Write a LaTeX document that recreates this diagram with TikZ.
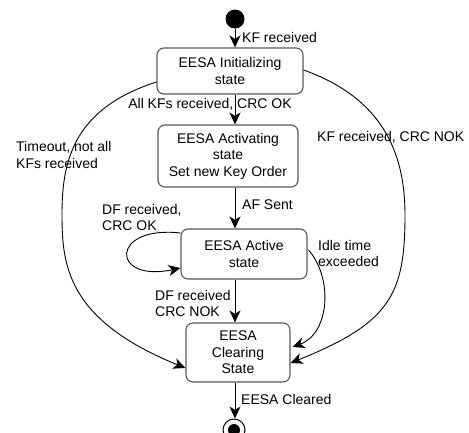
\documentclass[tikz,border=0pt]{standalone}
\usepackage{fontspec}
\setmainfont{Liberation Sans}
\usetikzlibrary{arrows.meta,calc}
\begin{document}
\begin{tikzpicture}[x=1pt,y=-1pt,
  every node/.style={font=\fontsize{14}{16.5}\selectfont},
  statebox/.style={draw=black!65,line width=1.1pt,rounded corners=7pt,inner sep=0pt,align=center},
  lbl/.style={inner sep=0pt,align=left},
  conn/.style={line width=0.9pt,-{Stealth[length=12pt,width=11pt,inset=3.5pt]}}]
\useasboundingbox (0,0) rectangle (469,432);
\node[circle,fill=black,inner sep=0pt,minimum size=19pt] (start) at (235,19) {};
\node[statebox,minimum width=146pt,minimum height=46pt] (n1) at (230,71) {EESA Initializing\\state};
\node[statebox,minimum width=140pt,minimum height=62pt] (n2) at (228,156) {EESA Activating\\state\\Set new Key Order};
\node[statebox,minimum width=126pt,minimum height=50pt] (n3) at (244,254) {EESA Active\\state};
\node[statebox,minimum width=104pt,minimum height=59pt] (n4) at (238,352.5) {EESA\\Clearing\\State};
\node[circle,draw=black,line width=1pt,inner sep=0pt,minimum size=22pt] (fin) at (234,430) {};
\node[circle,fill=black,inner sep=0pt,minimum size=12pt] (finin) at (234,430) {};

% vertical transitions
\draw[conn] (start.south) -- (n1.north -| start);
\draw[conn] (n1.south -| start) -- (n2.north -| start);
\draw[conn] (n2.south -| start) -- (n3.north -| start);
\draw[conn] (n3.south -| start) -- (n4.north -| start);
\draw[conn] (n4.south -| start) -- (fin.north -| start);

% curved transitions
\coordinate (lmid) at (62,215);
\draw[conn] ($(n1.west)+(0,11)$) .. controls (70.5,109.5) and (62,165) .. (lmid)
  .. controls (62,265) and (67,320) .. ($(n4.west)+(0,15.5)$);
\coordinate (rmid) at (405,215);
\draw[conn] ($(n1.east)+(0,-1)$) .. controls (388,100) and (405,160) .. (rmid)
  .. controls (405,295) and (390,323) .. ($(n4.east)+(0,10.5)$);
\draw[conn] ($(n3.east)+(1,-4)$) .. controls (333,278) and (330,333) .. ($(n4.east)+(2,-5.5)$);
\draw[conn] ($(n3.west)+(0,-21)$) .. controls (110,225) and (110,283) .. ($(n3.west)+(0,14)$);

% labels
\node[lbl,anchor=west] (l1) at (242,37) {KF received};
\node[lbl] (l2) at (210,104) {All KFs received, CRC OK};
\node[lbl,anchor=west] (l3) at (16,155) {Timeout, not all\\KFs received};
\node[lbl,anchor=west] (l4) at (317,137) {KF received, CRC NOK};
\node[lbl,anchor=west] (l5) at (242,205) {AF Sent};
\node[lbl,anchor=west] (l6) at (102,217.5) {DF received,\\CRC OK};
\node[lbl,anchor=west] (l7) at (318,253.5) {Idle time\\exceeded};
\node[lbl,anchor=west] (l8) at (155,303.5) {DF received\\CRC NOK};
\node[lbl,anchor=west] (l9) at (241,399) {EESA Cleared};
\end{tikzpicture}
\end{document}
